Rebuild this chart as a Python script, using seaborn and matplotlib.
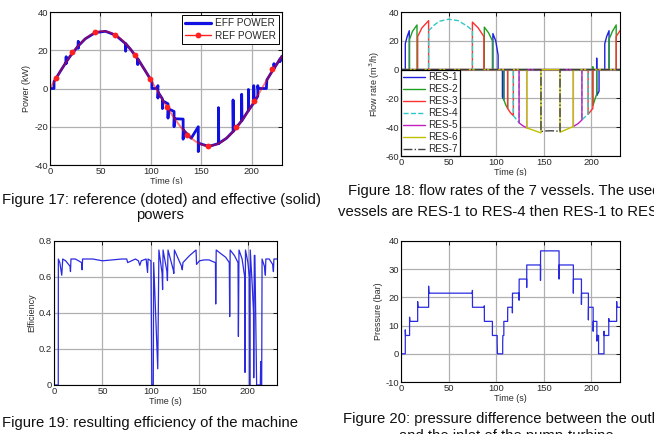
import matplotlib
matplotlib.use("Agg")
import matplotlib.pyplot as plt
from matplotlib.lines import Line2D
from matplotlib.patches import Rectangle
import seaborn as sns

# ---- Figure 17: reference and effective power ----
ref_t = [0, 5, 10, 15, 20, 25, 30, 35, 40, 45, 50, 55, 60, 65, 70, 75, 80, 85, 90, 95,
         100, 105, 110, 115, 120, 125, 130, 135, 140, 145, 150, 155, 160, 165, 170, 175,
         180, 185, 190, 195, 200, 205, 210, 215, 220, 225, 230]
ref_p = [0, 4.47, 8.84, 13.02, 16.90, 20.41, 23.45, 25.98, 27.93, 29.25, 29.92, 29.92,
         29.25, 27.93, 25.98, 23.45, 20.41, 16.90, 13.02, 8.84, 4.47, 0, -4.47, -8.84,
         -13.02, -16.90, -20.41, -23.45, -25.98, -27.93, -29.25, -29.92, -29.92, -29.25,
         -27.93, -25.98, -23.45, -20.41, -16.90, -13.02, -8.84, -4.47, 0, 4.47, 8.84,
         13.02, 16.90]
mark_t = [5.6, 22.2, 44.4, 64.6, 83.8, 99.3, 115.9, 135.8, 156.3, 184, 202, 220]
mark_p = [5.6, 18.9, 29.5, 28.1, 17.6, 4.9, -9.8, -24.1, -29.9, -20.3, -6.3, 10.3]
eff_t = [0, 4, 4, 10, 16, 16, 16, 16.3, 20, 28, 28, 28, 28.3, 35, 45, 55, 65, 75, 75, 75.3,
         80, 87, 87, 87.3, 95, 100, 101, 101, 106.5, 107, 107, 107.3, 111.5, 111.5, 111.8,
         117, 117, 117.3, 123, 123, 123.3, 132, 132, 132.3, 140, 147, 147, 147.3, 155, 160,
         167, 167, 167.3, 175, 181.5, 181.5, 181.8, 190, 190, 190.3, 196.7, 196.7, 197,
         202, 202, 202.3, 206, 206, 206.3, 214.5, 215, 220, 222, 222, 222.3, 228, 228,
         228.3, 230]
eff_p = [0, 0, 3.6, 8.8, 13.8, 16.5, 13, 14, 16.9, 22.3, 24.5, 21, 22.4, 26, 29.25, 29.9,
         27.9, 23.4, 19.5, 23.3, 20.4, 15.4, 12.5, 15.3, 8.8, 4.5, 3.6, 0, 0, 1.5, -5, -2,
         -5.5, -10.5, -6.5, -8, -15.5, -10.6, -12, -20, -15.8, -16, -26.5, -21.8, -26, -20,
         -33, -28.6, -29.9, -29.9, -28.8, -10, -28.7, -26, -22.5, -6, -22.3, -16.9, -3,
         -16.8, -11.5, -0.5, -11.3, -7.5, 1.5, -7.3, -4, 1.5, 0, 0, 4.5, 8.8, 10.5, 13,
         10.6, 15.4, 14, 15.5, 16.9]

# ---- Figure 18: flow rates of the 7 vessels ----
res_names = ["RES-1", "RES-2", "RES-3", "RES-4", "RES-5", "RES-6", "RES-7"]
res1_t = [0, 4.5, 4.5, 6.5, 8.7, 8.7, 96.5, 96.5, 99.5, 102, 102, 106.5, 106.5, 108, 108,
          205.5, 205.5, 205.7, 208, 208, 214, 214, 216, 218.5, 218.5, 230]
res1_q = [0, 0, 18, 23, 27, 0, 0, 25, 20, 10, 0, 0, -19, -21, 0, 0, 8, -18, -15, 0, 0, 18,
          23, 27, 0, 0]
res2_t = [0, 9, 9, 12, 16.8, 16.8, 87.5, 87.5, 92, 96, 96, 108, 108, 110, 112, 112, 201.5,
          201.5, 201.6, 203.5, 205.5, 205.5, 218.5, 218.5, 222, 226, 226, 230]
res2_q = [0, 0, 21, 26.5, 31, 0, 0, 29.5, 25.5, 20, 0, 0, -21, -24.5, -27, 0, 0, 2, -25,
          -21, -17, 0, 0, 21, 26.5, 31, 0, 0]
res3_t = [0, 17.5, 17.5, 22, 29, 29, 75, 75, 81, 87, 87, 112, 112, 115, 118, 118, 196.5,
          196.5, 199, 201.5, 201.5, 226, 226, 230]
res3_q = [0, 0, 23, 29, 34, 0, 0, 33, 29, 23, 0, 0, -27, -30, -32, 0, 0, -31, -29, -27, 0,
          0, 23, 27]
res4_t = [0, 29, 29, 35, 40, 50, 60, 70, 75, 75, 118, 118, 121, 124, 124, 190, 190, 193,
          196.5, 196.5, 230]
res4_q = [0, 0, 27, 31, 33.5, 35, 34, 30, 27, 0, 0, -32, -34.5, -37, 0, 0, -35, -33, -31,
          0, 0]
res5_t = [0, 124, 124, 128, 132, 132, 181, 181, 186, 190, 190, 230]
res5_q = [0, 0, -37, -39, -40.5, 0, 0, -39.5, -37.5, -35, 0, 0]
res6_t = [0, 132, 132, 140, 147, 147, 167, 167, 174, 181, 181, 230]
res6_q = [0, 0, -40.5, -42.3, -44, 0, 0, -43.5, -41.5, -39.5, 0, 0]
res7_t = [0, 147, 147, 152, 157, 162, 167, 167, 230]
res7_q = [0, 0, -43, -42.6, -42.5, -42.6, -43, 0, 0]

# ---- Figure 19: efficiency ----
eta_t = [0, 4.4, 4.5, 6, 8, 9, 12, 16.5, 17, 17.5, 22, 28.5, 29, 29.5, 40, 50, 60, 70, 75,
         76, 80, 84, 87, 88.5, 90, 95, 96.5, 97, 100, 100.9, 102.4, 102.8, 107, 108.2,
         111.5, 112, 112.5, 116.5, 117, 117.6, 123, 123.6, 124.2, 131.5, 132.3, 133, 140,
         146.5, 147, 150, 155, 160, 164, 166.5, 166.8, 167.3, 172, 177, 180.8, 181.2,
         181.7, 186, 189.8, 190.2, 190.8, 194, 196.7, 197, 197.5, 200, 201.5, 201.9,
         202.4, 204.5, 205.8, 206, 206.6, 207.2, 209, 212.8, 213.2, 213.5, 214.2, 214.6,
         217, 218, 218.5, 222, 225.5, 226.3, 226.8, 230]
eta_v = [0, 0, 0.70, 0.68, 0.61, 0.70, 0.69, 0.66, 0.63, 0.70, 0.70, 0.68, 0.64, 0.70, 0.70,
         0.69, 0.695, 0.70, 0.70, 0.68, 0.69, 0.70, 0.69, 0.665, 0.69, 0.70, 0.625, 0.70,
         0.69, 0, 0, 0.68, 0.09, 0.75, 0.62, 0.53, 0.75, 0.63, 0.58, 0.75, 0.64, 0.62, 0.75,
         0.66, 0.64, 0.68, 0.72, 0.75, 0.67, 0.69, 0.695, 0.695, 0.685, 0.68, 0.45, 0.75,
         0.73, 0.71, 0.68, 0.38, 0.75, 0.72, 0.68, 0.27, 0.75, 0.70, 0.60, 0.07, 0.75, 0.68,
         0.60, 0.0, 0.75, 0.55, 0.40, 0.04, 0.72, 0.72, 0.0, 0.0, 0.13, 0.0, 0.0, 0.70, 0.66,
         0.61, 0.70, 0.70, 0.67, 0.63, 0.70, 0.70]

# ---- Figure 20: pressure difference ----
pr_t = [0, 4.5, 4.5, 4.8, 9, 9, 9.3, 17.5, 17.5, 17.8, 29, 29, 29.3, 75, 75, 75.1, 87.5,
        87.5, 87.6, 96, 96, 101, 101, 101.3, 106.8, 106.8, 107, 108, 108, 112, 112, 112.1,
        117, 117, 117.1, 124, 124, 124.1, 132, 132, 132.1, 146.5, 146.5, 146.6, 166, 166,
        166.1, 181, 181, 181.1, 189.5, 189.5, 189.6, 196.8, 196.8, 196.9, 201.8, 201.8,
        201.9, 205.7, 205.7, 205.8, 207.5, 207.5, 213.2, 213.2, 213.4, 218.2, 218.2, 218.4,
        226.5, 226.5, 226.7, 230]
pr_v = [0, 0, 8.5, 6.5, 6.5, 13, 11.5, 11.5, 18.5, 16.5, 16.5, 24, 21.5, 21.5, 22.5, 16.5,
        16.5, 17, 11.5, 11.5, 6.5, 6.5, 4, 0, 0, 4, 6.5, 6.5, 11.5, 11.5, 14, 16.5, 16.5,
        14.5, 21.5, 21.5, 19, 26.5, 26.5, 23.5, 31.5, 31.5, 26, 36.5, 36.5, 26.5, 31.5,
        31.5, 21.5, 26.5, 26.5, 17.5, 21.5, 21.5, 12, 16.5, 16.5, 8, 11.5, 11.5, 4.5, 6.5,
        6.5, 0, 0, 8, 6.5, 6.5, 12.5, 11.5, 11.5, 18.5, 16.5, 16.5]

time_ticks = [0, 50, 100, 150, 200]

sns.set_theme(style="white")
plt.rcParams['font.family'] = ['Liberation Sans', 'DejaVu Sans']
plt.rcParams['axes.unicode_minus'] = False

W, H = 654, 434
fig = plt.figure(figsize=(W / 100, H / 100), dpi=100)


def px_axes(x0, y0, x1, y1):
    return fig.add_axes([x0 / W, 1 - y1 / H, (x1 - x0) / W, (y1 - y0) / H])


def style(ax, yticks, ylim, ylabel, ylabels=None):
    ax.set_xlim(0, 230)
    ax.set_ylim(*ylim)
    ax.set_xticks(time_ticks)
    ax.set_yticks(yticks)
    if ylabels is not None:
        ax.set_yticklabels(ylabels)
    ax.set_axisbelow(True)
    ax.grid(True, color='#b0b0b0', lw=0.9)
    ax.tick_params(direction='in', top=True, right=True, length=3, width=0.6,
                   labelsize=6.8, pad=1.5, colors='black', labelcolor='#2a2a2a')
    for s in ax.spines.values():
        s.set_color('black')
        s.set_linewidth(0.8)
    ax.set_xlabel('Time (s)', fontsize=6.5, labelpad=1, color='#2a2a2a')
    ax.set_ylabel(ylabel, fontsize=6.5, labelpad=2, color='#2a2a2a')


# Panel 1
ax1 = px_axes(50, 12, 282, 165)
sns.lineplot(x=eff_t, y=eff_p, ax=ax1, estimator=None, sort=False, color='#1010e0', lw=2.0)
sns.lineplot(x=ref_t, y=ref_p, ax=ax1, estimator=None, sort=False, color='#ff0000', lw=1.4,
             alpha=0.5)
ax1.plot(mark_t, mark_p, 'o', color='#ff2020', ms=4.2, mec='none')
style(ax1, [-40, -20, 0, 20, 40], (-40, 40), 'Power (kW)')
h1 = [Line2D([], [], color='#1010e0', lw=2.3),
      Line2D([], [], color='#ff2020', lw=1, marker='o', ms=4.2, mec='none')]
lg = ax1.legend(h1, ['EFF POWER', 'REF POWER'], loc='upper right', fontsize=7.2,
                frameon=True, fancybox=False, edgecolor='black', framealpha=1,
                borderpad=0.3, labelspacing=0.25, handlelength=2.6, handletextpad=0.4,
                borderaxespad=0.3)
lg.get_frame().set_linewidth(0.7)

# Panel 2
ax2 = px_axes(401, 12, 620, 156)
res_series = [(res1_t, res1_q), (res2_t, res2_q), (res3_t, res3_q), (res4_t, res4_q),
              (res5_t, res5_q), (res6_t, res6_q), (res7_t, res7_q)]
res_colors = ['#2020e0', '#20a020', '#ff3030', '#30c8c8', '#c020c0', '#c0c000', '#404040']
res_styles = ['-', '-', '-', '--', '-', '-', '-.']
for (tt, qq), c, ls, nm in zip(res_series, res_colors, res_styles, res_names):
    sns.lineplot(x=tt, y=qq, ax=ax2, estimator=None, sort=False, color=c, lw=1.0,
                 linestyle=ls, label=nm)
style(ax2, [-60, -40, -20, 0, 20, 40], (-60, 40), 'Flow rate (m$^3$/h)')
lg2 = ax2.legend(loc='lower left', fontsize=7.2, frameon=True, fancybox=False,
                 edgecolor='black', framealpha=1, borderpad=0.2, labelspacing=0.2,
                 handlelength=2.2, handletextpad=0.3, borderaxespad=0)
lg2.get_frame().set_linewidth(0.9)

# Panel 3
ax3 = px_axes(54, 241, 277, 385)
sns.lineplot(x=eta_t, y=eta_v, ax=ax3, estimator=None, sort=False, color='#2a2ae0', lw=0.9)
style(ax3, [0, 0.2, 0.4, 0.6, 0.8], (0, 0.8), 'Efficiency',
      ['0', '0.2', '0.4', '0.6', '0.8'])

# Panel 4
ax4 = px_axes(401, 241, 620, 382)
sns.lineplot(x=pr_t, y=pr_v, ax=ax4, estimator=None, sort=False, color='#2a2ae0', lw=0.9)
style(ax4, [-10, 0, 10, 20, 30, 40], (-10, 40), 'Pressure (bar)')

# white strips that crop the bottom of the upper x labels
fig.add_artist(Rectangle((0, 1 - 190 / H), 0.5, 6 / H, transform=fig.transFigure,
                         color='white', zorder=10))
fig.add_artist(Rectangle((0.5, 1 - 182 / H), 0.5, 6 / H, transform=fig.transFigure,
                         color='white', zorder=10))

# captions
cap = dict(fontsize=10.7, color='#111111', va='center', zorder=11)
fig.text(2 / W, 1 - 200 / H, 'Figure 17: reference (doted) and effective (solid)', ha='left', **cap)
fig.text(160 / W, 1 - 215 / H, 'powers', ha='center', **cap)
fig.text(348 / W, 1 - 191 / H, 'Figure 18: flow rates of the 7 vessels. The used', ha='left', **cap)
fig.text(338 / W, 1 - 212 / H, 'vessels are RES-1 to RES-4 then RES-1 to RES-7', ha='left', **cap)
fig.text(2 / W, 1 - 423 / H, 'Figure 19: resulting efficiency of the machine', ha='left', **cap)
fig.text(343 / W, 1 - 419 / H, 'Figure 20: pressure difference between the outlet', ha='left', **cap)
fig.text(399 / W, 1 - 436 / H, 'and the inlet of the pump-turbine', ha='left', **cap)

fig.savefig('out.png', dpi=100)
